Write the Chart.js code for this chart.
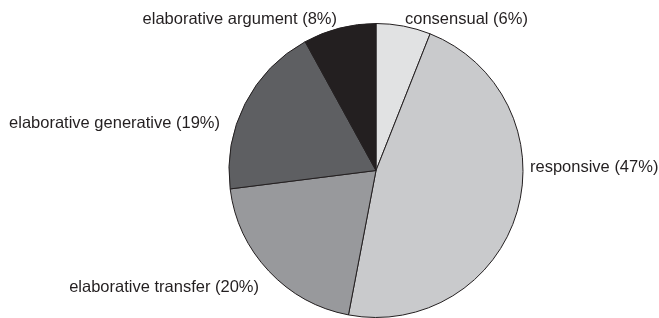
<!DOCTYPE html>
<html>
<head>
<meta charset="utf-8">
<script src="https://cdn.jsdelivr.net/npm/chart.js@4/dist/chart.umd.min.js"></script>
<style>
  html, body { margin: 0; padding: 0; background: #fff; }
  #wrap { position: relative; width: 659px; height: 318px; }
</style>
</head>
<body>
<div id="wrap"><canvas id="myChart"></canvas></div>
<script>
const categories = ['consensual', 'responsive', 'elaborative transfer', 'elaborative generative', 'elaborative argument'];
const percents = [6, 47, 20, 19, 8];
const sliceColors = ['#e1e2e3', '#c9cacc', '#98999c', '#5e5f62', '#231f20'];

// label placement relative to the pie centre (px) and text alignment
const labelLayout = [
    {dx: 29, dy: -151, align: 'left'},
    {dx: 154, dy: -3, align: 'left'},
    {dx: -117, dy: 117, align: 'right'},
    {dx: -156, dy: -47, align: 'right'},
    {dx: -39, dy: -151, align: 'right'}
];

const sliceLabels = {
    id: 'sliceLabels',
    afterDraw: function (chart) {
        const ctx = chart.ctx;
        const arcs = chart.getDatasetMeta(0).data;
        if (!arcs.length) return;
        const cx = arcs[0].x, cy = arcs[0].y;
        ctx.save();
        ctx.font = '16.5px "Liberation Sans", Arial, sans-serif';
        ctx.fillStyle = '#231f20';
        ctx.textBaseline = 'middle';
        let i;
        for (i = 0; i < categories.length; i++) {
            const pos = labelLayout[i];
            ctx.textAlign = pos.align;
            ctx.fillText(`${categories[i]} (${percents[i]}%)`, cx + pos.dx, cy + pos.dy);
        }
        ctx.restore();
    }
};

const ctx = document.getElementById('myChart');
const myPieChart = new Chart(ctx, {
    type: 'pie',
    data: {
        labels: categories,
        datasets: [{
            data: percents,
            backgroundColor: sliceColors,
            borderColor: '#231f20',
            borderWidth: 1
        }]
    },
    options: {
        responsive: true,
        maintainAspectRatio: false,
        animation: false,
        layout: {
            padding: {top: 23, bottom: 0, left: 200, right: 107}
        },
        plugins: {
            legend: {display: false},
            tooltip: {enabled: false}
        }
    },
    plugins: [sliceLabels]
});
</script>
</body>
</html>
